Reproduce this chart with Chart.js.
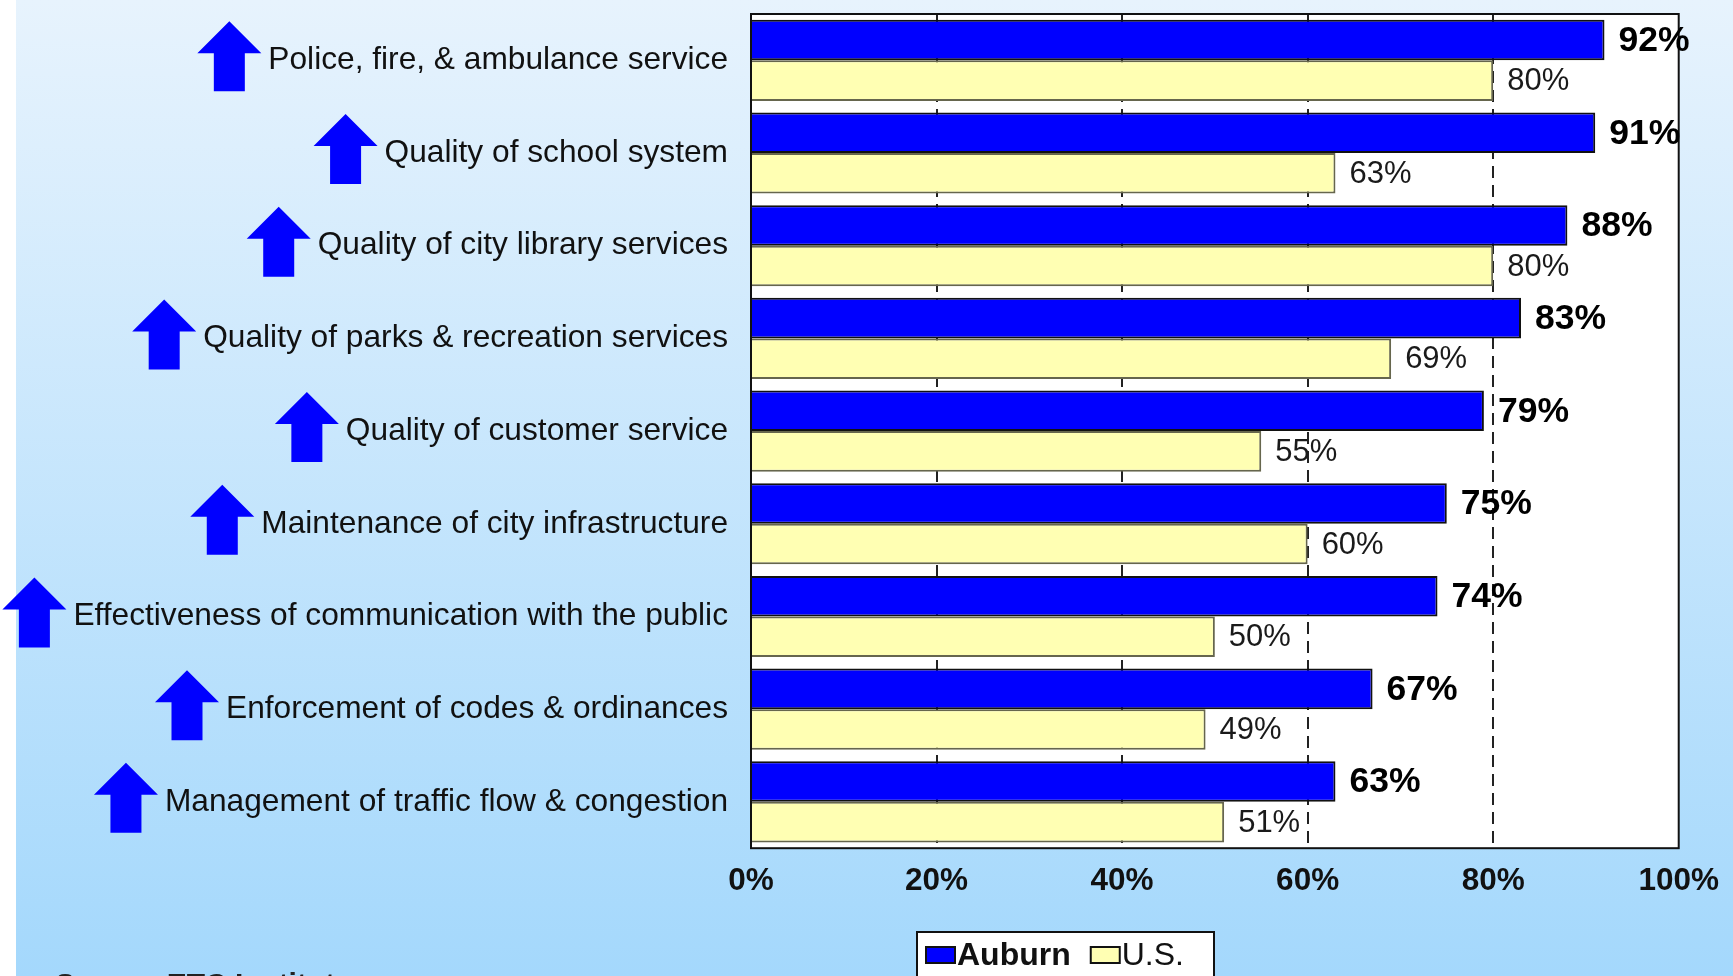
<!DOCTYPE html>
<html lang="en">
<head>
<meta charset="UTF-8">
<title>Satisfaction with City Services</title>
<script src="https://cdn.jsdelivr.net/npm/chart.js"></script>
<style>
  html, body { margin: 0; padding: 0; }
  body {
    width: 1733px;
    height: 976px;
    overflow: hidden;
    position: relative;
    background: linear-gradient(to right, #fff 16px, transparent 16px),
                linear-gradient(to bottom, #e7f3fd, #a4d8fc);
    font-family: "Liberation Sans", Arial, sans-serif;
  }
  #wrap { position: absolute; left: 0; top: 0; width: 1733px; height: 976px; }
  .source {
    position: absolute;
    left: 55px;
    top: 967px;
    font-size: 30px;
    color: #222;
    white-space: nowrap;
  }
</style>
</head>
<body>
<div id="wrap"><canvas id="chart"></canvas></div>
<div class="source">Source: <b>ETC Institute</b></div>

<script>
const categories = [
  'Police, fire, & ambulance service',
  'Quality of school system',
  'Quality of city library services',
  'Quality of parks & recreation services',
  'Quality of customer service',
  'Maintenance of city infrastructure',
  'Effectiveness of communication with the public',
  'Enforcement of codes & ordinances',
  'Management of traffic flow & congestion'
];
const auburn = [92, 91, 88, 83, 79, 75, 74, 67, 63];
const us = [80, 63, 80, 69, 55, 60, 50, 49, 51];
const xTicks = [0, 20, 40, 60, 80, 100];

const FONT = '"Liberation Sans", Arial, sans-serif';
const LABEL_SIZE = 31.7;

// white plotting area
const plotBackground = {
  id: 'plotBackground',
  beforeDraw(chart) {
    const { ctx, chartArea: a } = chart;
    ctx.save();
    ctx.fillStyle = '#ffffff';
    ctx.fillRect(a.left, a.top, a.right - a.left, a.bottom - a.top);
    ctx.restore();
  }
};

// black frame around the plot
const plotFrame = {
  id: 'plotFrame',
  afterDatasetsDraw(chart) {
    const { ctx, chartArea: a } = chart;
    ctx.save();
    ctx.strokeStyle = '#111';
    ctx.lineWidth = 2;
    ctx.strokeRect(a.left, a.top, a.right - a.left, a.bottom - a.top);
    ctx.restore();
  }
};

// percentages to the right of each bar
const valueLabels = {
  id: 'valueLabels',
  afterDatasetsDraw(chart) {
    const ctx = chart.ctx;
    ctx.save();
    ctx.textBaseline = 'middle';
    ctx.textAlign = 'left';
    chart.data.datasets.forEach((ds, di) => {
      const meta = chart.getDatasetMeta(di);
      ctx.font = di === 0 ? 'bold 35.5px ' + FONT : '31px ' + FONT;
      ctx.fillStyle = di === 0 ? '#000' : '#1a1a1a';
      meta.data.forEach((bar, i) => {
        ctx.fillText(ds.data[i] + '%', bar.x + 14, bar.y + 1);
      });
    });
    ctx.restore();
  }
};

// blue "up" arrows in front of each category label
const upArrows = {
  id: 'upArrows',
  afterDraw(chart) {
    const ctx = chart.ctx;
    const y = chart.scales.y;
    ctx.save();
    ctx.font = LABEL_SIZE + 'px ' + FONT;
    ctx.fillStyle = '#0000ff';
    const textRight = y.right - 23;
    chart.data.labels.forEach((lab, i) => {
      const w = ctx.measureText(lab).width;
      const right = textRight - w - 7;
      const cy = y.getPixelForTick(i) - 4;
      const head = 64, shaft = 31, h = 70, headH = 32;
      const cx = right - head / 2;
      const top = cy - h / 2;
      ctx.beginPath();
      ctx.moveTo(cx, top);
      ctx.lineTo(cx + head / 2, top + headH);
      ctx.lineTo(cx + shaft / 2, top + headH);
      ctx.lineTo(cx + shaft / 2, top + h);
      ctx.lineTo(cx - shaft / 2, top + h);
      ctx.lineTo(cx - shaft / 2, top + headH);
      ctx.lineTo(cx - head / 2, top + headH);
      ctx.closePath();
      ctx.fill();
    });
    ctx.restore();
  }
};

// boxed legend under the axis
const boxLegend = {
  id: 'boxLegend',
  afterDraw(chart) {
    const ctx = chart.ctx;
    const left = 917, top = 932, width = 297;
    ctx.save();
    ctx.fillStyle = '#fff';
    ctx.fillRect(left, top, width, 60);
    ctx.strokeStyle = '#111';
    ctx.lineWidth = 2;
    ctx.strokeRect(left, top, width, 60);
    let x = left + 9;
    const cy = top + 23;
    ctx.textBaseline = 'middle';
    chart.data.datasets.forEach((ds, di) => {
      ctx.fillStyle = ds.backgroundColor;
      ctx.fillRect(x, cy - 8, 29, 16);
      ctx.strokeStyle = '#111';
      ctx.lineWidth = 2;
      ctx.strokeRect(x, cy - 8, 29, 16);
      ctx.font = (di === 0 ? 'bold ' : '') + '32px ' + FONT;
      ctx.fillStyle = '#111';
      ctx.fillText(ds.label, x + 31, cy + 1);
      x += 31 + ctx.measureText(ds.label).width + 20;
    });
    ctx.restore();
  }
};

new Chart(document.getElementById('chart'), {
  type: 'bar',
  data: {
    labels: categories,
    datasets: [
      {
        label: 'Auburn',
        data: auburn,
        backgroundColor: '#0000ff',
        borderColor: '#111',
        borderWidth: 2
      },
      {
        label: 'U.S.',
        data: us,
        backgroundColor: '#ffffb3',
        borderColor: '#66664d',
        borderWidth: 2
      }
    ]
  },
  options: {
    indexAxis: 'y',
    responsive: true,
    maintainAspectRatio: false,
    animation: false,
    categoryPercentage: 0.875,
    barPercentage: 1.0,
    layout: { padding: { top: 14, right: 54, bottom: 62, left: 0 } },
    plugins: {
      legend: { display: false },
      tooltip: { enabled: false }
    },
    scales: {
      x: {
        min: 0,
        max: 100,
        afterBuildTicks: s => { s.ticks = xTicks.map(v => ({ value: v })); },
        ticks: {
          padding: 14,
          color: '#111',
          font: { family: FONT, size: 31.5, weight: 'bold' },
          callback: v => v + '%'
        },
        grid: {
          drawTicks: false,
          color: c => (c.tick && (c.tick.value === 0 || c.tick.value === 100)) ? 'rgba(0,0,0,0)' : '#222',
          lineWidth: 2
        },
        border: { display: false, dash: [12, 7] }
      },
      y: {
        afterFit: s => {
          s.width = 751;
          s.paddingTop = 0;
          s.paddingBottom = 0;
        },
        ticks: {
          padding: 23,
          color: '#111',
          font: { family: FONT, size: LABEL_SIZE }
        },
        grid: { display: false, drawTicks: false },
        border: { display: false }
      }
    }
  },
  plugins: [plotBackground, plotFrame, valueLabels, upArrows, boxLegend]
});
</script>
</body>
</html>
